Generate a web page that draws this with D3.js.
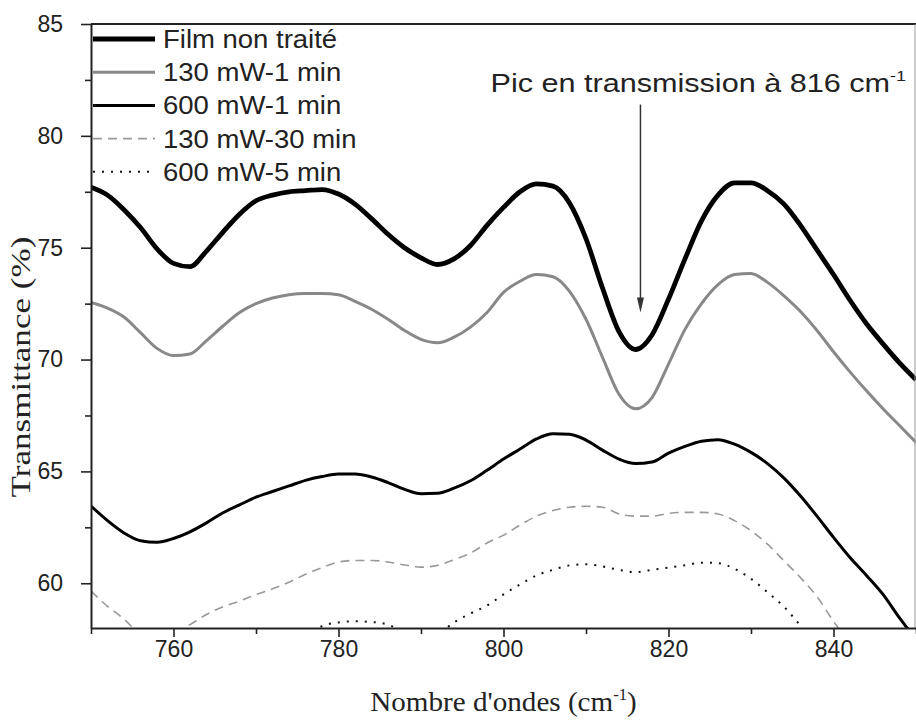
<!DOCTYPE html>
<html lang="fr">
<head>
<meta charset="utf-8">
<title>Transmittance</title>
<script src="https://cdn.jsdelivr.net/npm/d3@7"></script>
<style>
  html, body { margin: 0; padding: 0; background: #fff; }
  #chart svg { display: block; }
</style>
</head>
<body>
<div id="chart"></div>
<script>
(function () {
  'use strict';

  // Wavenumber grid (cm-1), values every 2 cm-1
  const WAVENUMBERS = [
    750, 752, 754, 756, 758, 760, 762, 764, 766, 768,
    770, 772, 774, 776, 778, 780, 782, 784, 786, 788,
    790, 792, 794, 796, 798, 800, 802, 804, 806, 808,
    810, 812, 814, 816, 818, 820, 822, 824, 826, 828,
    830, 832, 834, 836, 838, 840, 842, 844, 846, 848, 850
  ];

  // Transmittance (%) — null where the trace is well below the axis
  const FILM_NON_TRAITE = [
    77.7, 77.35, 76.7, 75.9, 74.95, 74.3, 74.15, 74.85, 75.7, 76.5,
    77.1, 77.35, 77.5, 77.55, 77.6, 77.4, 76.95, 76.3, 75.6, 75.0,
    74.55, 74.25, 74.5, 75.1, 76.0, 76.8, 77.5, 77.85, 77.75, 77.0,
    75.4, 73.2, 71.25, 70.45, 71.1, 72.7, 74.5, 76.2, 77.35, 77.9,
    77.9, 77.55, 76.95, 76.0, 74.9, 73.8, 72.65, 71.6, 70.7, 69.85, 69.1
  ];
  const MW130_1MIN = [
    72.55, 72.3, 71.9, 71.2, 70.5, 70.18, 70.25, 70.85, 71.5, 72.1,
    72.5, 72.75, 72.9, 72.95, 72.95, 72.9, 72.6, 72.25, 71.8, 71.3,
    70.9, 70.75, 71.0, 71.45, 72.1, 73.0, 73.5, 73.8, 73.7, 73.05,
    71.8, 70.1, 68.45, 67.8, 68.3, 69.8, 71.35, 72.5, 73.35, 73.8,
    73.85, 73.45, 72.85, 72.15, 71.3, 70.35, 69.45, 68.6, 67.8, 67.05, 66.3
  ];
  const MW600_1MIN = [
    63.45, 62.8, 62.25, 61.9, 61.83, 62.0, 62.3, 62.7, 63.15, 63.5,
    63.85, 64.1, 64.35, 64.6, 64.77, 64.88, 64.88, 64.75, 64.5, 64.2,
    64.0, 64.02, 64.25, 64.58, 65.05, 65.55, 66.0, 66.45, 66.68, 66.66,
    66.4, 65.95, 65.55, 65.35, 65.42, 65.82, 66.12, 66.35, 66.42, 66.22,
    65.85, 65.35, 64.7, 63.9, 63.0, 62.05, 61.15, 60.35, 59.5, 58.45, 57.5
  ];
  const MW130_30MIN = [
    59.65, 58.97, 58.4, 57.7, 57.4, 57.7, 58.15, 58.6, 58.95, 59.2,
    59.5, 59.75, 60.05, 60.4, 60.7, 60.95, 61.02, 61.02, 60.95, 60.82,
    60.72, 60.8, 61.05, 61.35, 61.8, 62.15, 62.6, 63.0, 63.25, 63.4,
    63.44, 63.4, 63.1, 63.0, 63.0, 63.12, 63.17, 63.17, 63.1, 62.8,
    62.35, 61.75, 61.0, 60.25, 59.4, 58.3, 57.3, null, null, null, null
  ];
  const MW600_5MIN = [
    null, null, null, null, null, null, null, null, null, null,
    null, null, null, 57.6, 58.08, 58.25, 58.3, 58.27, 58.15, 57.8,
    57.5, 57.7, 58.25, 58.65, 59.0, 59.5, 59.95, 60.35, 60.6, 60.8,
    60.85, 60.75, 60.6, 60.5, 60.6, 60.7, 60.8, 60.92, 60.9, 60.65,
    60.2, 59.6, 58.95, 58.1, 57.2, null, null, null, null, null, null
  ];

  const SERIES_NAMES = [
    'Film non traité', '130 mW-1 min', '600 mW-1 min', '130 mW-30 min', '600 mW-5 min'
  ];
  const SERIES_VALUES = [FILM_NON_TRAITE, MW130_1MIN, MW600_1MIN, MW130_30MIN, MW600_5MIN];

  // Line styles, same order as the series
  const STYLES = [
    { color: '#000', width: 4.8, dash: null },
    { color: '#888', width: 3, dash: null },
    { color: '#000', width: 3, dash: null },
    { color: '#999', width: 1.6, dash: '9,6' },
    { color: '#111', width: 2, dash: '2,7' }
  ];

  // Axes
  const X_DOMAIN = [750, 850];
  const Y_DOMAIN = [58, 85];
  const X_TICKS = [760, 780, 800, 820, 840];
  const X_MINOR = [750, 770, 790, 810, 830, 850];
  const Y_TICKS = [60, 65, 70, 75, 80, 85];
  const Y_MINOR = [62.5, 67.5, 72.5, 77.5, 82.5];

  // Peak annotation (data units)
  const PEAK_LABEL = 'Pic en transmission à 816 cm';
  const PEAK_X = 816.6;
  const PEAK_FROM = 81.4;
  const PEAK_TO = 72.1;

  const W = 916, H = 726;
  const left = 91, right = 916, top = 24, bottom = 628;
  const SANS = '"Liberation Sans", Arial, sans-serif';
  const SERIF = '"Liberation Serif", "Times New Roman", serif';

  const svg = d3.select('#chart').append('svg')
    .attr('width', W).attr('height', H)
    .attr('viewBox', `0 0 ${W} ${H}`);

  const x = d3.scaleLinear().domain(X_DOMAIN).range([left, right]);
  const y = d3.scaleLinear().domain(Y_DOMAIN).range([bottom, top]);

  svg.append('clipPath').attr('id', 'plot-clip')
    .append('rect')
    .attr('x', left).attr('y', top)
    .attr('width', right - left).attr('height', bottom - top);

  // Curves
  const line = d3.line()
    .defined(d => d[1] != null)
    .x(d => x(d[0]))
    .y(d => y(d[1]))
    .curve(d3.curveMonotoneX);

  const curves = svg.append('g').attr('clip-path', 'url(#plot-clip)');
  SERIES_VALUES.forEach((vals, i) => {
    const pts = WAVENUMBERS.map((w, k) => [w, vals[k]]);
    const st = STYLES[i];
    curves.append('path')
      .datum(pts)
      .attr('d', line)
      .attr('fill', 'none')
      .attr('stroke', st.color)
      .attr('stroke-width', st.width)
      .attr('stroke-linejoin', 'round')
      .attr('stroke-dasharray', st.dash);
  });

  // Frame: top and right
  svg.append('line')
    .attr('x1', left).attr('x2', right)
    .attr('y1', top).attr('y2', top)
    .attr('stroke', '#222').attr('stroke-width', 2);
  svg.append('line')
    .attr('x1', right - 1).attr('x2', right - 1)
    .attr('y1', top).attr('y2', bottom)
    .attr('stroke', '#999').attr('stroke-width', 1);

  // Left axis
  const yAxis = svg.append('g')
    .attr('transform', `translate(${left},0)`)
    .call(d3.axisLeft(y).tickValues(Y_TICKS).tickSize(10).tickPadding(18).tickSizeOuter(0));
  svg.append('g')
    .attr('transform', `translate(${left},0)`)
    .call(d3.axisLeft(y).tickValues(Y_MINOR).tickSize(6).tickFormat('').tickSizeOuter(0))
    .select('.domain').remove();

  // Bottom axis
  const xAxis = svg.append('g')
    .attr('transform', `translate(0,${bottom})`)
    .call(d3.axisBottom(x).tickValues(X_TICKS).tickSize(9).tickPadding(4).tickSizeOuter(0));
  svg.append('g')
    .attr('transform', `translate(0,${bottom})`)
    .call(d3.axisBottom(x).tickValues(X_MINOR).tickSize(6).tickFormat('').tickSizeOuter(0))
    .select('.domain').remove();

  svg.selectAll('.tick line').attr('stroke', '#222').attr('stroke-width', 1.6);
  [yAxis, xAxis].forEach(a => {
    a.select('.domain').attr('stroke', '#222').attr('stroke-width', 2);
    a.selectAll('text')
      .attr('font-family', SANS).attr('font-size', 23).attr('fill', '#222');
  });

  // Axis titles (the source figure uses a widened face, hence the scaleX)
  svg.append('text')
    .attr('transform', 'translate(30,367) rotate(-90) scale(1.3,1)')
    .attr('text-anchor', 'middle')
    .attr('font-family', SERIF).attr('font-size', 27).attr('fill', '#222')
    .text('Transmittance (%)');

  const xt = svg.append('text')
    .attr('transform', `translate(${(left + right) / 2},711) scale(1.04,1)`)
    .attr('text-anchor', 'middle')
    .attr('font-family', SERIF).attr('font-size', 28).attr('fill', '#222');
  xt.append('tspan').text("Nombre d'ondes (cm");
  xt.append('tspan').attr('dy', -11).attr('font-size', 16).text('-1');
  xt.append('tspan').attr('dy', 11).text(')');

  // Legend
  const legend = svg.append('g');
  SERIES_NAMES.forEach((name, i) => {
    const ly = 39 + i * 33.2;
    const st = STYLES[i];
    legend.append('line')
      .attr('x1', left + 2).attr('x2', 155)
      .attr('y1', ly).attr('y2', ly)
      .attr('stroke', st.color)
      .attr('stroke-width', st.width)
      .attr('stroke-dasharray', st.dash);
    legend.append('text')
      .attr('transform', `translate(163,${ly}) scale(1.1,1)`)
      .attr('dy', '0.36em')
      .attr('font-family', SANS).attr('font-size', 25).attr('fill', '#222')
      .text(name);
  });

  // Peak annotation: label + arrow
  const pk = svg.append('text')
    .attr('transform', 'translate(906,92) scale(1.2,1)')
    .attr('text-anchor', 'end')
    .attr('font-family', SANS).attr('font-size', 25.5).attr('fill', '#222');
  pk.append('tspan').text(PEAK_LABEL);
  pk.append('tspan').attr('dy', -11).attr('font-size', 15).text('-1');

  const ax = x(PEAK_X);
  const ay0 = y(PEAK_FROM), ay1 = y(PEAK_TO);
  svg.append('line')
    .attr('x1', ax).attr('x2', ax)
    .attr('y1', ay0).attr('y2', ay1 - 10)
    .attr('stroke', '#333').attr('stroke-width', 1.5);
  svg.append('path')
    .attr('d', `M${ax - 3.5},${ay1 - 15} L${ax + 3.5},${ay1 - 15} L${ax},${ay1} Z`)
    .attr('fill', '#333');
})();
</script>
</body>
</html>
